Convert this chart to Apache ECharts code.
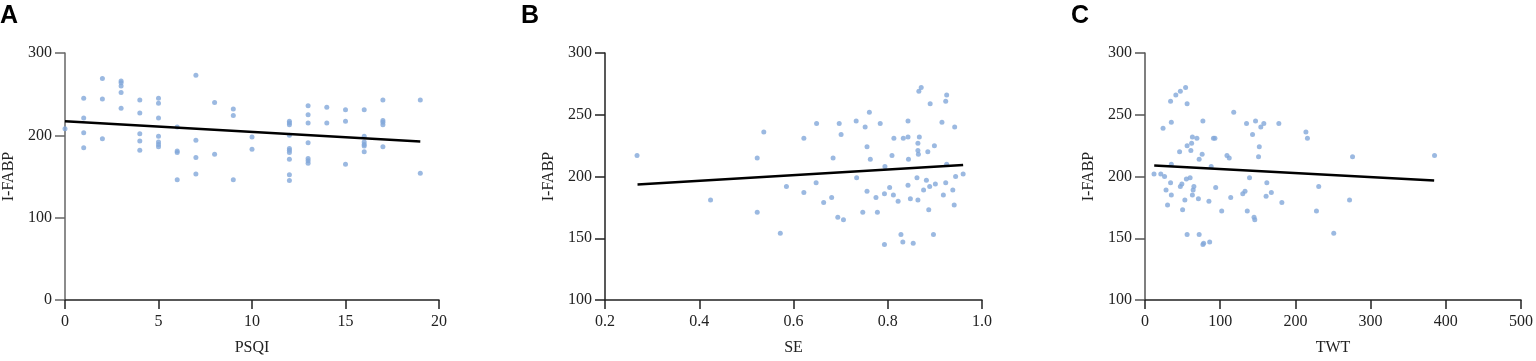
<!DOCTYPE html>
<html>
<head>
<meta charset="utf-8">
<script src="https://cdn.jsdelivr.net/npm/echarts@6/dist/echarts.min.js"></script>
<style>
  html, body { margin: 0; padding: 0; background: #fff; }
  #chart { width: 1536px; height: 361px; }
</style>
</head>
<body>
<div id="chart"></div>
<script>
// Panel A: PSQI vs I-FABP
const psqiX = [0, 1, 1, 1, 1, 2, 2, 2, 3, 3, 3, 3, 3, 4, 4, 4, 4, 4,
  5, 5, 5, 5, 5, 5, 5, 6, 6, 6, 6, 7, 7, 7, 7, 8, 8, 9, 9, 9, 10, 10,
  12, 12, 12, 12, 12, 12, 12, 12, 12, 12, 13, 13, 13, 13, 13, 13, 13,
  14, 14, 15, 15, 15, 16, 16, 16, 16, 16, 16, 17, 17, 17, 17, 17, 19, 19]
const psqiY = [208, 245, 221, 203, 185, 269, 244, 196, 266, 264, 260, 252, 233, 243, 227, 202, 193, 182,
  245, 239, 221, 199, 192, 189, 186, 210, 181, 179, 146, 273, 194, 173, 153, 240, 177, 232, 224, 146, 198, 183,
  217, 215, 213, 200, 184, 182, 179, 171, 152, 145, 236, 225, 215, 191, 172, 169, 166,
  234, 215, 231, 217, 165, 231, 199, 192, 189, 187, 180, 243, 218, 216, 213, 186, 243, 154]
const fitA = [[0, 217], [19, 192.5]]

// Panel B: SE vs I-FABP
const seX = [0.268, 0.424, 0.537, 0.523, 0.523, 0.572, 0.585, 0.622, 0.622, 0.649, 0.648, 0.664,
  0.681, 0.684, 0.697, 0.701, 0.694, 0.706, 0.733, 0.734, 0.752, 0.756, 0.761, 0.763, 0.756,
  0.747, 0.784, 0.775, 0.778, 0.794, 0.793, 0.793, 0.804, 0.809, 0.813, 0.812, 0.822, 0.828,
  0.832, 0.833, 0.843, 0.843, 0.844, 0.843, 0.848, 0.854, 0.862, 0.864, 0.864, 0.864, 0.865,
  0.866, 0.871, 0.867, 0.882, 0.876, 0.885, 0.887, 0.890, 0.889, 0.897, 0.899, 0.901, 0.915,
  0.918, 0.923, 0.923, 0.925, 0.925, 0.938, 0.941, 0.942, 0.944, 0.960]
const seY = [217, 181, 236, 215, 171, 154, 192, 231, 187, 243, 195, 179,
  183, 215, 243, 234, 167, 165, 245, 199, 240, 224, 252, 214, 188,
  171, 243, 183, 171, 208, 145, 186, 191, 217, 231, 185, 180, 153,
  147, 231, 245, 232, 214, 193, 182, 146, 199, 181, 227, 221, 218,
  269, 272, 232, 197, 189, 220, 173, 259, 192, 153, 225, 194, 244,
  185, 195, 261, 266, 210, 189, 177, 240, 200, 202]
const fitB = [[0.269, 193.6], [0.96, 209.4]]

// Panel C: TWT vs I-FABP
const twtX = [12, 21, 26, 24, 28, 30, 34, 35, 35, 34, 35, 41, 46, 47, 49, 47, 54, 56,
  50, 53, 56, 56, 55, 60, 61, 62, 63, 63, 65, 64, 69, 71, 72, 72, 76, 77, 77, 78,
  86, 85, 88, 91, 93, 94, 102, 109, 112, 114, 118, 130, 133, 135, 136, 139,
  147, 143, 154, 158, 152, 151, 162, 161, 168, 145, 146, 178, 182,
  214, 216, 231, 228, 251, 276, 272, 385]
const twtY = [202, 202, 200, 239, 189, 177, 261, 244, 210, 195, 185, 266, 220, 192, 194, 269, 272, 259,
  173, 181, 153, 225, 198, 199, 221, 227, 232, 185, 192, 189, 231, 182, 153, 214, 218, 245, 145, 146,
  147, 180, 208, 231, 231, 191, 172, 217, 215, 183, 252, 186, 188, 243, 172, 199,
  245, 234, 240, 243, 224, 216, 195, 184, 187, 167, 165, 243, 179,
  236, 231, 192, 172, 154, 216, 181, 217]
const fitC = [[12.3, 208.9], [384.5, 196.7]]

const chart = echarts.init(document.getElementById('chart'))

const font = 'Liberation Serif'
const dotColor = '#82a7d9'

const grids = [
  { left: 63, top: 53, width: 376, height: 250 },
  { left: 605, top: 53, width: 377, height: 252 },
  { left: 1145, top: 53, width: 377, height: 252 }
]

const makeX = (i, name, min, max, interval, fmt) => ({
  gridIndex: i,
  type: 'value',
  min, max, interval,
  name,
  nameLocation: 'middle',
  nameGap: 40,
  nameTextStyle: { fontFamily: font, fontSize: 16, color: '#222' },
  axisLine: { onZero: false, lineStyle: { color: '#222', width: 1.5 } },
  axisTick: { show: true, length: 9, lineStyle: { color: '#222', width: 1.5 } },
  axisLabel: { fontFamily: font, fontSize: 16, color: '#222', margin: 14, formatter: fmt },
  splitLine: { show: false }
})

const makeY = (i, min, max, interval, lineColor) => ({
  gridIndex: i,
  type: 'value',
  min, max, interval,
  name: 'I-FABP',
  nameLocation: 'middle',
  nameGap: 48,
  nameTextStyle: { fontFamily: font, fontSize: 16, color: '#222' },
  axisLine: { show: true, onZero: false, lineStyle: { color: lineColor, width: 1.5 } },
  axisTick: { show: true, length: 10, lineStyle: { color: lineColor, width: 1.5 } },
  axisLabel: { fontFamily: font, fontSize: 16, color: '#222', margin: 13 },
  splitLine: { show: false }
})

const zip = (xs, ys) => xs.map((x, k) => [x, ys[k]])

const scatter = (i, data) => ({
  type: 'scatter',
  xAxisIndex: i,
  yAxisIndex: i,
  data,
  symbolSize: 5,
  itemStyle: { color: dotColor },
  z: 2
})

const fit = (i, data) => ({
  type: 'line',
  xAxisIndex: i,
  yAxisIndex: i,
  data,
  symbol: 'none',
  lineStyle: { color: '#000', width: 2.5 },
  z: 3
})

const letter = (x, text) => ({
  type: 'text',
  left: x,
  top: 4,
  style: { text, font: 'bold 25px "Liberation Sans"', fill: '#000' }
})

const option = {
  animation: false,
  grid: grids,
  xAxis: [
    makeX(0, 'PSQI', 0, 20, 5),
    makeX(1, 'SE', 0.2, 1.0, 0.2, v => v.toFixed(1)),
    makeX(2, 'TWT', 0, 500, 100)
  ],
  yAxis: [
    makeY(0, 0, 300, 100, '#666'),
    makeY(1, 100, 300, 50, '#222'),
    makeY(2, 100, 300, 50, '#555')
  ],
  graphic: [letter(0, 'A'), letter(521, 'B'), letter(1071, 'C')],
  series: [
    scatter(0, zip(psqiX, psqiY)),
    fit(0, fitA),
    scatter(1, zip(seX, seY)),
    fit(1, fitB),
    scatter(2, zip(twtX, twtY)),
    fit(2, fitC)
  ]
}

chart.setOption(option)
</script>
</body>
</html>
